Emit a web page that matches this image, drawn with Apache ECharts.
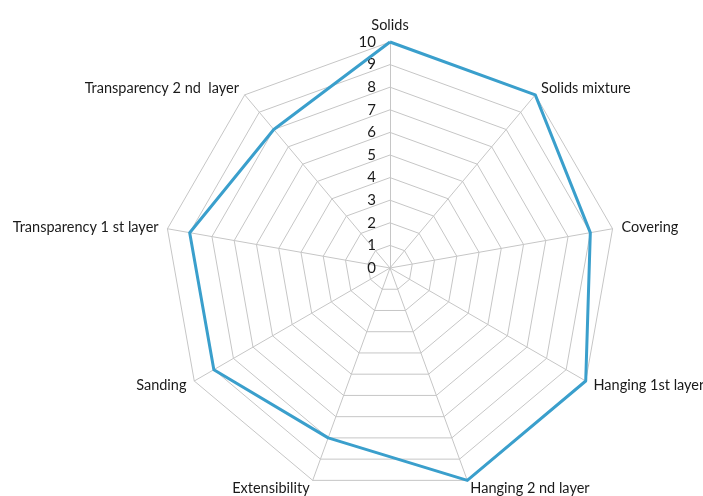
<!DOCTYPE html>
<html>
<head>
<meta charset="utf-8">
<script src="https://cdn.jsdelivr.net/npm/echarts@6/dist/echarts.min.js"></script>
<style>html,body{margin:0;padding:0;background:#fff}#c{width:703px;height:496px}</style>
</head>
<body>
<div id="c"></div>
<script>
// Clockwise order starting at the top
const indicators = ["Solids", "Solids mixture", "Covering", "Hanging 1st layer", "Hanging 2 nd layer", "Extensibility", "Sanding", "Transparency 1 st layer", "Transparency 2 nd  layer"];
const values = [10, 10, 9, 10, 10, 8, 9, 9, 8];
const maxValue = 10;

// ECharts draws radar axes counter-clockwise; reorder so the picture runs clockwise
const order = [0].concat(indicators.slice(1).map((_, i) => indicators.length - 1 - i));
const font = 'Lato, "Open Sans", sans-serif';

const chart = echarts.init(document.getElementById('c'));
chart.setOption({
  animation: false,
  radar: {
    center: [390, 268],
    radius: 226,
    startAngle: 90,
    shape: 'polygon',
    splitNumber: 10,
    nameGap: 9,
    axisName: { color: '#1a1a1a', fontSize: 14.5, fontFamily: font },
    axisLine: { lineStyle: { color: '#c6c6c6', width: 1 } },
    splitLine: { lineStyle: { color: '#c6c6c6', width: 1 } },
    splitArea: { show: false },
    axisTick: { show: false },
    axisLabel: { show: false },
    indicator: order.map((k, i) => i === 0
      ? { name: indicators[k], max: maxValue, min: 0, axisLabel: { show: true, color: '#1a1a1a', fontSize: 15, fontFamily: font, margin: 14 } }
      : { name: indicators[k], max: maxValue, min: 0 })
  },
  series: [{
    type: 'radar',
    symbol: 'none',
    lineStyle: { color: '#3a9fcc', width: 3 },
    data: [{ value: order.map(k => values[k]) }]
  }]
});
</script>
</body>
</html>
